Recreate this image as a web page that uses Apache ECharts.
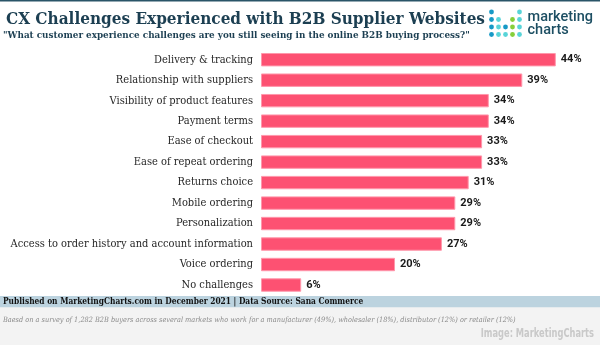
<!DOCTYPE html>
<html>
<head>
<meta charset="utf-8">
<script src="https://cdn.jsdelivr.net/npm/echarts@6/dist/echarts.min.js"></script>
<style>html,body{margin:0;padding:0;background:#fff;}#c{width:600px;height:345px;}</style>
</head>
<body>
<div id="c"></div>
<script>
const categories = [
  'Delivery & tracking',
  'Relationship with suppliers',
  'Visibility of product features',
  'Payment terms',
  'Ease of checkout',
  'Ease of repeat ordering',
  'Returns choice',
  'Mobile ordering',
  'Personalization',
  'Access to order history and account information',
  'Voice ordering',
  'No challenges'
];
const values = [44, 39, 34, 34, 33, 33, 31, 29, 29, 27, 20, 6];

const titleText = 'CX Challenges Experienced with B2B Supplier Websites';
const subtitleText = '"What customer experience challenges are you still seeing in the online B2B buying process?"';
const sourceText = 'Published on MarketingCharts.com in December 2021 | Data Source: Sana Commerce';
const noteText = 'Baesd on a survey of 1,282 B2B buyers across several markets who work for a manufacturer (49%), wholesaler (18%), distributor (12%) or retailer (12%)';
const creditText = 'Image: MarketingCharts';

const SERIF = '"DejaVu Serif Condensed", "Liberation Serif", serif';
const BLUE = '#1799c6', TEAL = '#58d4d8', GREEN = '#86cf3a';
const dotRows = [
  [BLUE, null, null, null, TEAL],
  [BLUE, TEAL, null, GREEN, TEAL],
  [BLUE, TEAL, BLUE, GREEN, TEAL],
  [BLUE, TEAL, TEAL, GREEN, TEAL]
];
const dots = [];
dotRows.forEach((row, r) => row.forEach((col, c) => {
  if (col) dots.push({type: 'circle', shape: {cx: 491.5 + c * 7, cy: 12 + r * 7.5, r: 2.4}, style: {fill: col}, silent: true});
}));

function txt(x, y, text, font, fill, extra) {
  return Object.assign({type: 'text', x: x, y: y, silent: true,
    style: Object.assign({text: text, font: font, fill: fill, verticalAlign: 'middle'}, (extra && extra.style) || {})},
    (extra && extra.el) || {});
}

const chart = echarts.init(document.getElementById('c'), null, {renderer: 'canvas'});
chart.setOption({
  animation: false,
  backgroundColor: '#ffffff',
  grid: {left: 261, right: 17.4, top: 49.45, bottom: 49.75, containLabel: false, outerBoundsMode: 'none'},
  xAxis: {
    type: 'value', min: 0, max: 48,
    show: false
  },
  yAxis: {
    type: 'category', data: categories, inverse: true,
    axisLine: {show: false}, axisTick: {show: false},
    axisLabel: {margin: 8, color: '#262626', fontFamily: SERIF, fontSize: 11}
  },
  series: [{
    type: 'bar', data: values, barWidth: 13.4,
    itemStyle: {color: '#fd5172', borderColor: '#ff97ab', borderWidth: 1},
    label: {show: true, position: 'right', distance: 5, formatter: '{c}%',
      color: '#1a1a1a', fontFamily: 'Roboto', fontWeight: 'bold', fontSize: 11}
  }],
  graphic: [
    {type: 'rect', shape: {x: 0, y: 0, width: 600, height: 1.5}, style: {fill: '#2a5568'}, silent: true},
    {type: 'rect', shape: {x: 0, y: 307, width: 600, height: 38}, style: {fill: '#f3f3f3'}, silent: true},
    {type: 'rect', shape: {x: 0, y: 296, width: 600, height: 11.3}, style: {fill: '#bcd3df'}, silent: true},
    txt(6, 19.2, titleText, 'bold 17px ' + SERIF, '#1c3f52'),
    txt(3, 35.8, subtitleText, 'bold 9.8px ' + SERIF, '#1c3f52'),
    txt(527.5, 17.8, 'marketing', '500 14.5px Roboto', '#1d4f63'),
    txt(527.5, 30.1, 'charts', '500 14.5px Roboto', '#1d4f63'),
    ...dots,
    txt(3, 301.8, sourceText, 'bold 8.3px ' + SERIF, '#111'),
    txt(3, 320.2, noteText, 'italic 7.3px ' + SERIF, '#8a8a8a'),
    txt(594, 334, creditText, 'bold 13px "DejaVu Sans Condensed", sans-serif', '#c9c9c9',
      {style: {align: 'right'}, el: {scaleX: 0.71}})
  ]
});
</script>
</body>
</html>
